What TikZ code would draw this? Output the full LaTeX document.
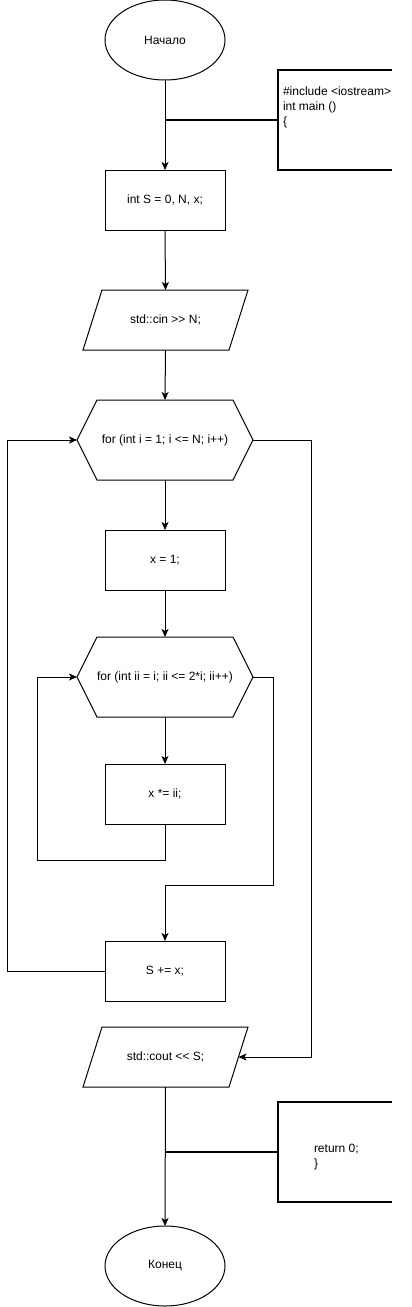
\documentclass[tikz,border=0pt]{standalone}
\usepackage{fontspec}
\newfontfamily\lsans{Liberation Sans}
\usetikzlibrary{shapes.geometric,arrows.meta}
\tikzset{
  every node/.style={outer sep=0pt, font=\lsans\fontsize{12}{15}\selectfont},
  line/.style={line width=1pt, draw=black},
  arr/.style={line width=1pt, -{Stealth[length=8pt,width=7pt,inset=2pt]}},
  thick2/.style={line width=2pt},
  procbox/.style={draw, line width=1pt, minimum width=120pt, minimum height=60pt, inner sep=0pt},
  term/.style={draw, ellipse, line width=1pt, minimum width=120pt, minimum height=80pt, inner sep=0pt},
  hexbox/.style={minimum width=176pt, minimum height=80pt, inner sep=0pt},
  parbox/.style={minimum width=165pt, minimum height=60pt, inner sep=0pt},
  cmbox/.style={minimum width=114pt, minimum height=100pt, inner sep=0pt},
}
\begin{document}
\begin{tikzpicture}[x=1pt,y=-1pt]
\useasboundingbox (0,0) rectangle (412,1307);

% nodes
\node[term] (start) at (165,40) {Начало};
\node[cmbox] (cm1) at (335,120) {};
\node[anchor=north west, align=left, inner sep=0pt] (t1) at (283,86.5) {\#include <iostream>\\int main ()\\\{};
\node[procbox] (s1) at (165,200) {int S = 0, N, x;};
\node[parbox] (cin) at (165.5,320) {std::cin >> N;};
\node[hexbox] (h1) at (165,440) {for (int i = 1; i <= N; i++)};
\node[procbox] (x1) at (165,560) {x = 1;};
\node[hexbox] (h2) at (165,677) {for (int ii = i; ii <= 2*i; ii++)};
\node[procbox] (x2) at (165,794) {x *= ii;};
\node[procbox] (s2) at (165,971) {S += x;};
\node[parbox] (cout) at (165.5,1057) {std::cout << S;};
\node[term] (end) at (165,1266) {Конец};
\node[cmbox] (cm2) at (335,1152) {};
\node[anchor=north west, align=left, inner sep=0pt] (t2) at (314,1144.5) {return 0;\\\}};

% shapes drawn from node anchors
\foreach \h in {h1,h2}{
  \draw[line] ([xshift=20pt]\h.north west) -- ([xshift=-20pt]\h.north east) -- (\h.east)
    -- ([xshift=-20pt]\h.south east) -- ([xshift=20pt]\h.south west) -- (\h.west) -- cycle;
}
\foreach \p in {cin,cout}{
  \draw[line] ([xshift=19pt]\p.north west) -- (\p.north east)
    -- ([xshift=-19pt]\p.south east) -- (\p.south west) -- cycle;
}
\foreach \c in {cm1,cm2}{
  \draw[thick2] ([xshift=0pt]\c.north east) -- (\c.north west) -- (\c.south west) -- (\c.south east);
}

% coordinates
\coordinate (j1) at (165,120);
\coordinate (j2) at (165,1152);
\coordinate (l2) at (37,860);
\coordinate (r2) at (273,885);
\coordinate (l1) at (7,440);
\coordinate (r1) at (311.5,1057);
\coordinate (coe) at ([xshift=-9.5pt]cout.east);

% connectors
\draw[arr] (start.south) -- (s1.north);
\draw[thick2] (j1) -- (cm1.west);
\draw[arr] (s1.south) -- (cin.north);
\draw[arr] (cin.south) -- (h1.north);
\draw[arr] (h1.south) -- (x1.north);
\draw[arr] (x1.south) -- (h2.north);
\draw[arr] (h2.south) -- (x2.north);
\draw[arr] (x2.south) |- (l2) |- (h2.west);
\draw[arr] (h2.east) -| (r2) -| (s2.north);
\draw[arr] (s2.west) -| (l1) -- (h1.west);
\draw[arr] (h1.east) -| (r1) -- (coe);
\draw[arr] (cout.south) -- (end.north);
\draw[thick2] (j2) -- (cm2.west);
\end{tikzpicture}
\end{document}
